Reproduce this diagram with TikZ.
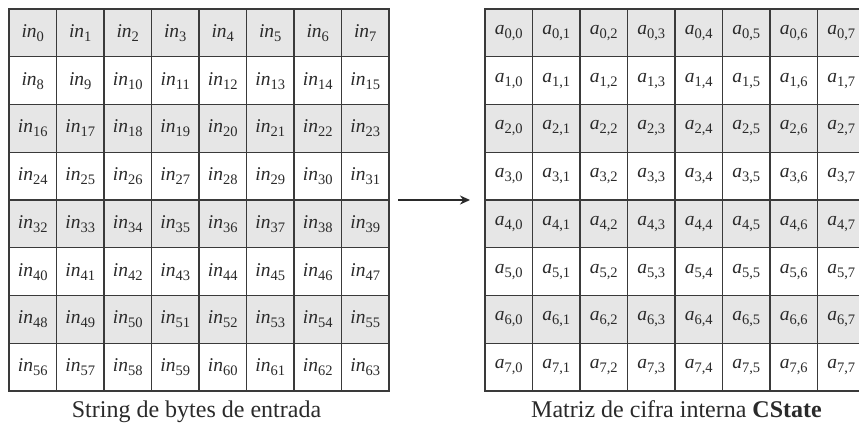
\documentclass[tikz,border=0pt]{standalone}
\usepackage{fontspec}
\setmainfont{Liberation Serif}
\usetikzlibrary{arrows.meta}
\definecolor{cellgray}{HTML}{E6E6E6}
\definecolor{linegray}{HTML}{3A3A3A}
\definecolor{txt}{HTML}{2A2A2A}
\newcommand\cellin[1]{\textit{in}\raisebox{-4pt}{\fontsize{14.5}{14.5}\selectfont #1}}
\newcommand\cella[1]{\textit{a}\raisebox{-4pt}{\fontsize{14.5}{14.5}\selectfont #1}}
\tikzset{
  cell/.style={draw=linegray, line width=1.3pt, minimum width=47.5pt, minimum height=47.75pt,
    inner sep=0pt, outer sep=0pt, text=txt, font=\fontsize{19.5}{19.5}\selectfont},
  caption/.style={text=txt, font=\fontsize{24}{24}\selectfont, anchor=base, inner sep=0pt},
  arrowline/.style={draw=txt, line width=1.8pt, -{Stealth[length=10pt,width=9pt]}}
}
\begin{document}
\begin{tikzpicture}[x=1pt,y=-1pt]
\useasboundingbox (0,0) rectangle (859,432);
\clip (0,0) rectangle (859,432);
\fill[white] (0,0) rectangle (859,432);
\foreach \r in {0,...,7}{
  \foreach \c in {0,...,7}{
    \ifodd\r\def\fc{white}\else\def\fc{cellgray}\fi
    \pgfmathtruncatemacro\n{8*\r+\c}
    \node[cell, fill=\fc] (in-\r-\c) at ({9+47.5*(\c+0.5)},{9+47.75*(\r+0.5)}) {\cellin{\n}};
    \node[cell, fill=\fc] (a-\r-\c) at ({485+47.5*(\c+0.5)},{9+47.75*(\r+0.5)}) {\cella{\r,\c}};
  }
}
\draw[arrowline] ([xshift=9pt]in-3-7.south east) -- ([xshift=-15pt]a-3-0.south west);
\node[caption] (capL) at (196.5,417) {String de bytes de entrada};
\node[caption] (capR) at (676.5,417) {Matriz de cifra interna \textbf{CState}};
\end{tikzpicture}
\end{document}
